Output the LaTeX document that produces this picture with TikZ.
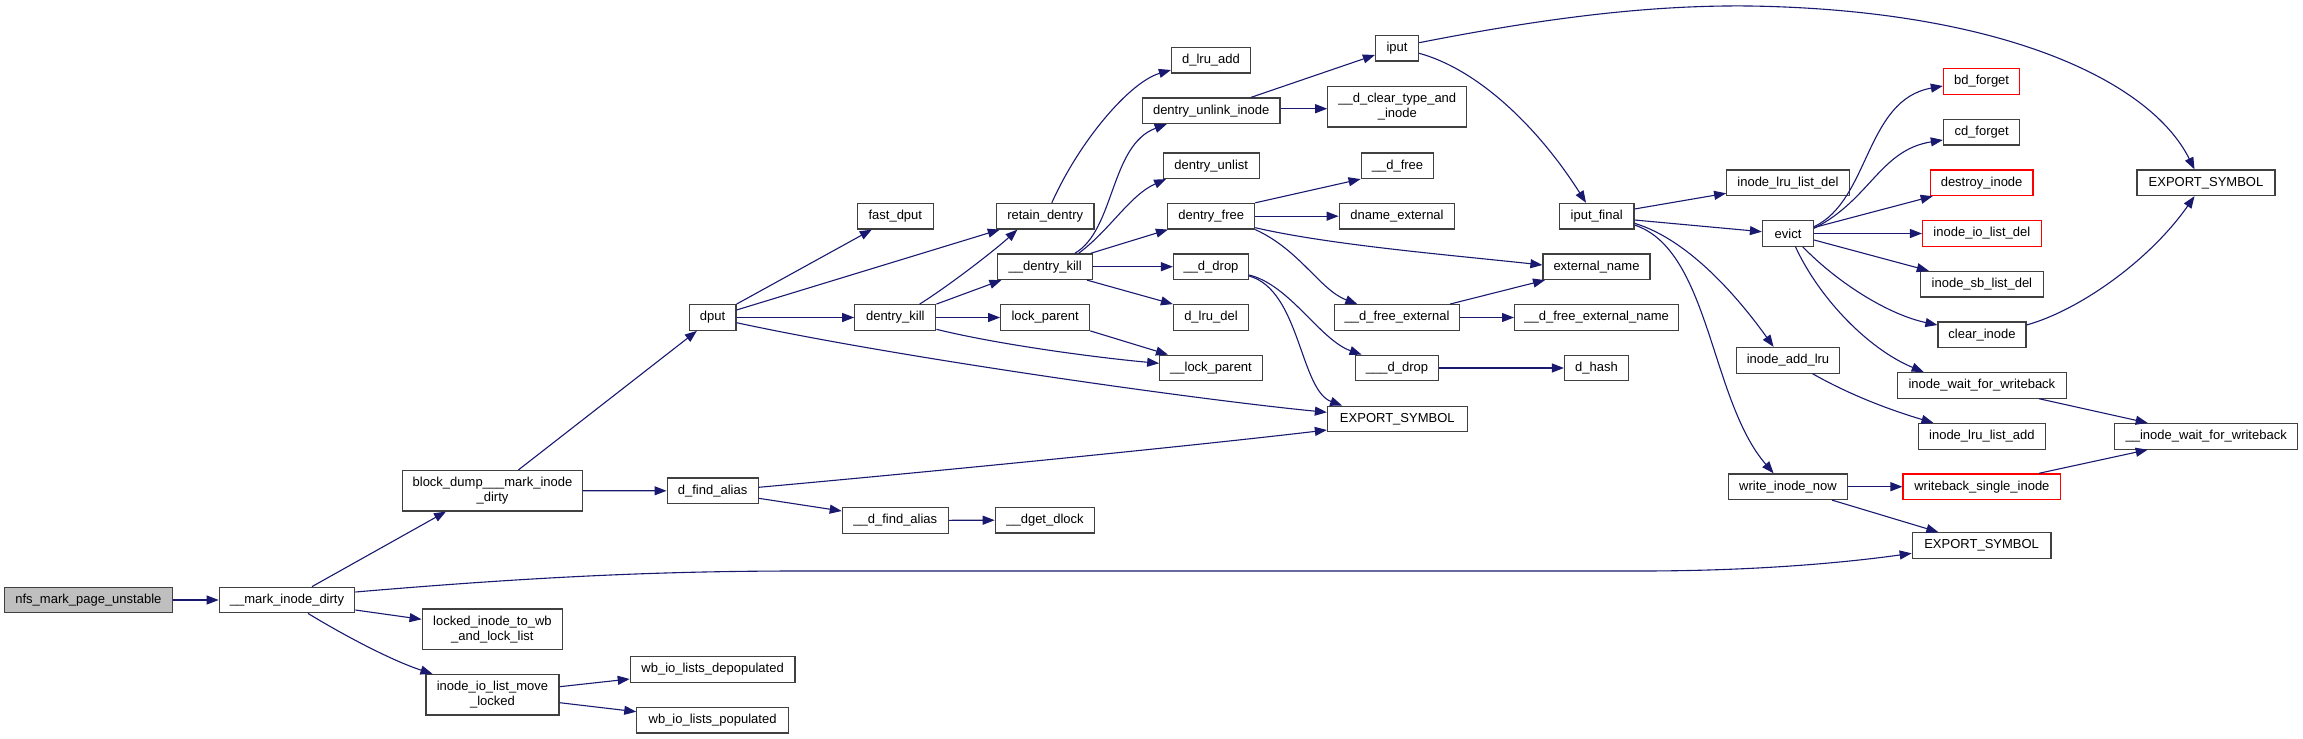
\documentclass[tikz,border=0pt]{standalone}
\usepackage{fontspec}
\setmainfont{Liberation Sans}
\usetikzlibrary{arrows.meta}
\definecolor{edgeblue}{HTML}{191970}
\definecolor{boxgray}{HTML}{BFBFBF}
\definecolor{boxline}{HTML}{404040}
\begin{document}
\begin{tikzpicture}[x=1pt,y=-1pt,
  fn/.style={draw=boxline, line width=1.2pt, fill=white, inner sep=0pt,
    minimum height=25.6pt, font=\fontsize{13}{14.7}\selectfont, align=center, text=black},
  two/.style={minimum height=40.5pt},
  redb/.style={draw=red},
  e/.style={draw=edgeblue, line width=1.1pt, -{Triangle[length=12pt,width=9pt]}}]
\useasboundingbox[fill=white] (0,0) rectangle (2303,739);
% nodes
\node[fn, fill=boxgray, minimum width=168pt] (n0) at (88.4,600) {nfs\_mark\_page\_unstable};
\node[fn, minimum width=135.5pt] (n1) at (287,600) {\_\_mark\_inode\_dirty};
\node[fn, two, minimum width=180pt] (bd) at (492.5,490.7) {block\_dump\_\_\_mark\_inode\\\_dirty};
\node[fn, two, minimum width=140.5pt] (lk) at (492.4,629.3) {locked\_inode\_to\_wb\\\_and\_lock\_list};
\node[fn, two, minimum width=133pt] (iol) at (492.5,694.7) {inode\_io\_list\_move\\\_locked};
\node[fn, minimum width=46.7pt] (dput) at (712.6,317.5) {dput};
\node[fn, minimum width=91pt] (dfa) at (712.6,490.8) {d\_find\_alias};
\node[fn, minimum width=164.6pt] (wbd) at (712.6,669.5) {wb\_io\_lists\_depopulated};
\node[fn, minimum width=151.5pt] (wbp) at (712.6,720.2) {wb\_io\_lists\_populated};
\node[fn, minimum width=76pt] (fdput) at (895.3,216.2) {fast\_dput};
\node[fn, minimum width=81pt] (dk) at (895.3,317.5) {dentry\_kill};
\node[fn, minimum width=106pt] (dfa2) at (895.3,520.3) {\_\_d\_find\_alias};
\node[fn, minimum width=97.6pt] (rd) at (1045.2,216.2) {retain\_dentry};
\node[fn, minimum width=95.3pt] (dkill) at (1045.2,266.7) {\_\_dentry\_kill};
\node[fn, minimum width=89pt] (lp) at (1045.2,317.5) {lock\_parent};
\node[fn, minimum width=99.5pt] (dget) at (1045,520.2) {\_\_dget\_dlock};
\node[fn, minimum width=79pt] (dla) at (1211,60.2) {d\_lru\_add};
\node[fn, minimum width=137.5pt] (dui) at (1211.2,110.8) {dentry\_unlink\_inode};
\node[fn, minimum width=96pt] (dul) at (1211.2,165.7) {dentry\_unlist};
\node[fn, minimum width=87pt] (df) at (1211.2,216.2) {dentry\_free};
\node[fn, minimum width=75pt] (dd) at (1211,266.7) {\_\_d\_drop};
\node[fn, minimum width=75pt] (dld) at (1211,317.5) {d\_lru\_del};
\node[fn, minimum width=102.5pt] (lp2) at (1211,368) {\_\_lock\_parent};
\node[fn, minimum width=43pt] (iput) at (1397,48.2) {iput};
\node[fn, two, minimum width=139pt] (dct) at (1397.3,106.8) {\_\_d\_clear\_type\_and\\\_inode};
\node[fn, minimum width=72.7pt] (dfr) at (1397.5,165.7) {\_\_d\_free};
\node[fn, minimum width=115.6pt] (dne) at (1397,216.2) {dname\_external};
\node[fn, minimum width=125.5pt] (dfe) at (1397,317.5) {\_\_d\_free\_external};
\node[fn, minimum width=83pt] (dd3) at (1397,368) {\_\_\_d\_drop};
\node[fn, minimum width=139.7pt] (ex1) at (1397.3,419) {EXPORT\_SYMBOL};
\node[fn, minimum width=74.4pt] (ipf) at (1596.7,216.2) {iput\_final};
\node[fn, minimum width=107pt] (en) at (1596.5,266.7) {external\_name};
\node[fn, minimum width=164pt] (dfen) at (1596.6,317.5) {\_\_d\_free\_external\_name};
\node[fn, minimum width=64pt] (dh) at (1596.5,368) {d\_hash};
\node[fn, minimum width=122.6pt] (ild) at (1788,182.8) {inode\_lru\_list\_del};
\node[fn, minimum width=51pt] (ev) at (1788,233.5) {evict};
\node[fn, minimum width=102.7pt] (ial) at (1788,360.3) {inode\_add\_lru};
\node[fn, minimum width=119.2pt] (win) at (1788,486.7) {write\_inode\_now};
\node[fn, redb, minimum width=76.4pt] (bdf) at (1981.6,81.5) {bd\_forget};
\node[fn, minimum width=76.4pt] (cdf) at (1981.6,132.2) {cd\_forget};
\node[fn, redb, minimum width=102.7pt] (des) at (1981.6,182.8) {destroy\_inode};
\node[fn, redb, minimum width=118.7pt] (iold) at (1981.9,233.5) {inode\_io\_list\_del};
\node[fn, minimum width=122.6pt] (isb) at (1981.9,284.2) {inode\_sb\_list\_del};
\node[fn, minimum width=88pt] (ci) at (1982,334.8) {clear\_inode};
\node[fn, minimum width=169.3pt] (iww) at (1981.9,385.3) {inode\_wait\_for\_writeback};
\node[fn, minimum width=126.5pt] (illa) at (1981.9,436.3) {inode\_lru\_list\_add};
\node[fn, redb, minimum width=157.7pt] (wsi) at (1981.9,486.7) {writeback\_single\_inode};
\node[fn, minimum width=138.7pt] (ex3) at (1981.6,545.5) {EXPORT\_SYMBOL};
\node[fn, minimum width=138pt] (ex2) at (2206,182.8) {EXPORT\_SYMBOL};
\node[fn, minimum width=183pt] (iww2) at (2206.2,436.3) {\_\_inode\_wait\_for\_writeback};
% edges
\draw[e] (n0.east) -- (n1.west);
\draw[e] ([xshift=25pt]n1.north) -- ([xshift=-46.5pt]bd.south);
\draw[e] ([yshift=8pt]n1.east) .. controls (520,578) and (650,571) .. (800,571) -- (1640,571) .. controls (1760,571) and (1850,562) .. ([yshift=-7.8pt]ex3.west);
\draw[e] ([yshift=-10pt]n1.east) -- ([yshift=10pt]lk.west);
\draw[e] ([xshift=21pt]n1.south) .. controls (340,633) and (390,660) .. ([xshift=-60pt]iol.north);
\draw[e] (bd.east) -- (dfa.west);
\draw[e] ([xshift=26pt]bd.north) -- ([xshift=-15.7pt]dput.south);
\draw[e] ([yshift=8pt]iol.east) -- ([yshift=-9.5pt]wbd.west);
\draw[e] ([yshift=-8pt]iol.east) -- ([yshift=8.5pt]wbp.west);
\draw[e] ([yshift=3.5pt]dfa.east) .. controls (950,470) and (1200,445) .. ([yshift=-11pt]ex1.west);
\draw[e] ([yshift=-5.2pt]dput.east) .. controls (900,358) and (1200,400) .. ([yshift=6.7pt]ex1.west);
\draw[e] ([yshift=-7.5pt]dfa.east) -- ([yshift=9.3pt]dfa2.west);
\draw[e] (dfa2.east) -- (dget.west);
\draw[e] (dput.north east) -- ([xshift=-23.5pt]fdput.south);
\draw[e] ([yshift=7.5pt]dput.east) -- ([xshift=4pt]rd.south west);
\draw[e] (dput.east) -- (dk.west);
\draw[e] ([xshift=24.3pt]dk.north) .. controls (950,285) and (995,250) .. ([xshift=-27.8pt]rd.south);
\draw[e] (dk.north east) -- ([xshift=4.5pt]dkill.south west);
\draw[e] (dk.east) -- (lp.west);
\draw[e] ([yshift=-11.8pt]dk.east) .. controls (1000,345) and (1100,358) .. ([yshift=4.7pt]lp2.west);
\draw[e] (lp.south east) -- ([xshift=8.8pt]lp2.north west);
\draw[e] ([xshift=6.6pt]rd.north) .. controls (1080,140) and (1130,82) .. ([yshift=-9.8pt]dla.west);
\draw[e] ([xshift=29.6pt]dkill.north) .. controls (1115,230) and (1110,145) .. ([xshift=-44.5pt]dui.south);
\draw[e] ([xshift=33.4pt]dkill.north) .. controls (1110,230) and (1130,195) .. ([xshift=3.5pt]dul.south west);
\draw[e] ([xshift=-2.7pt]dkill.north east) -- ([xshift=0.8pt]df.south west);
\draw[e] (dkill.east) -- (dd.west);
\draw[e] ([xshift=-6.5pt]dkill.south east) -- (dld.north west);
\draw[e] ([yshift=-8.3pt]dd.east) .. controls (1290,285) and (1320,340) .. ([xshift=6.7pt]dd3.north west);
\draw[e] ([yshift=-9.3pt]dd.east) .. controls (1300,290) and (1300,390) .. ([xshift=15.3pt]ex1.north west);
\draw[e] (df.north east) -- (dfr.south west);
\draw[e] (df.east) -- (dne.west);
\draw[e] ([yshift=-11.5pt]df.east) .. controls (1330,245) and (1450,255) .. ([yshift=1.7pt]en.west);
\draw[e] (df.south east) .. controls (1300,250) and (1320,290) .. ([xshift=23.7pt]dfe.north west);
\draw[e] ([xshift=52.9pt]dfe.north) -- ([xshift=2.6pt]en.south west);
\draw[e] (dfe.east) -- (dfen.west);
\draw[e] (dd3.east) -- (dh.west);
\draw[e] ([xshift=39.7pt]dui.north) -- ([yshift=-6.8pt]iput.west);
\draw[e] ([yshift=2.1pt]dui.east) -- ([yshift=-1.9pt]dct.west);
\draw[e] ([yshift=5.5pt]iput.east) .. controls (1560,15) and (1660,5) .. (1750,6) .. controls (2000,10) and (2150,80) .. ([xshift=-11.5pt]ex2.north);
\draw[e] ([yshift=-5.1pt]iput.east) .. controls (1480,70) and (1540,130) .. ([xshift=-10.7pt]ipf.north);
\draw[e] ([yshift=7.2pt]ipf.east) -- ([yshift=-10.5pt]ild.west);
\draw[e] ([yshift=-3.8pt]ipf.east) -- ([yshift=1.8pt]ev.west);
\draw[e] ([yshift=-7.1pt]ipf.east) .. controls (1690,240) and (1740,300) .. ([xshift=-14.4pt]ial.north);
\draw[e] ([yshift=-8.8pt]ipf.east) .. controls (1710,250) and (1710,400) .. ([xshift=-14.4pt]win.north);
\draw[e] ([yshift=6.8pt]ev.east) .. controls (1870,200) and (1865,100) .. ([yshift=-4.5pt]bdf.west);
\draw[e] ([yshift=5.2pt]ev.east) .. controls (1870,200) and (1880,150) .. ([yshift=-7.8pt]cdf.west);
\draw[e] ([yshift=6pt]ev.east) -- ([xshift=3pt]des.south west);
\draw[e] (ev.east) -- (iold.west);
\draw[e] ([yshift=-6.5pt]ev.east) -- ([xshift=8.8pt]isb.north west);
\draw[e] ([xshift=14.8pt]ev.south) .. controls (1840,285) and (1890,315) .. ([yshift=9.8pt]ci.west);
\draw[e] ([xshift=7.5pt]ev.south) .. controls (1820,300) and (1870,350) .. ([xshift=27pt]iww.north west);
\draw[e] ([yshift=9.8pt]ci.east) .. controls (2080,310) and (2150,260) .. ([xshift=-11.5pt]ex2.south);
\draw[e] ([xshift=57pt]iww.south) -- ([xshift=33.6pt]iww2.north west);
\draw[e] ([xshift=57pt]wsi.north) -- ([xshift=33.6pt]iww2.south west);
\draw[e] ([xshift=24.5pt]ial.south) .. controls (1850,395) and (1890,410) .. ([xshift=15.4pt]illa.north west);
\draw[e] (win.east) -- (wsi.west);
\draw[e] ([xshift=44pt]win.south) -- ([xshift=26.7pt]ex3.north west);
\end{tikzpicture}
\end{document}
